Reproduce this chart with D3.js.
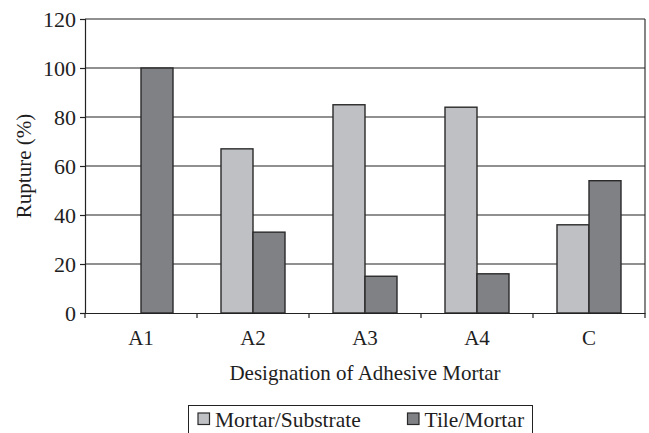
<!DOCTYPE html>
<html>
<head>
<meta charset="utf-8">
<script src="https://cdn.jsdelivr.net/npm/d3@7"></script>
<style>
  html, body { margin: 0; padding: 0; background: #fff; }
  svg { display: block; }
  text { font-family: "Liberation Serif", "Times New Roman", serif; fill: #1e1e1e; }
</style>
</head>
<body>
<svg id="chart" width="649" height="433"></svg>
<script>
// Rupture location by adhesive mortar
const categories = ["A1", "A2", "A3", "A4", "C"];
const seriesNames = ["Mortar/Substrate", "Tile/Mortar"];
const mortarSubstrate = [0, 67, 85, 84, 36];
const tileMortar = [100, 33, 15, 16, 54];
const yTicks = [0, 20, 40, 60, 80, 100, 120];
const seriesColors = ["#bfc0c4", "#808185"];

const FONT = "21px";
const svg = d3.select("#chart");
const margin = { left: 85, right: 4, top: 19, bottom: 120 };
const width = 649, height = 433;
const x0 = margin.left, x1 = width - margin.right;
const yTop = margin.top, yBottom = height - margin.bottom;

const x = d3.scaleBand().domain(categories).range([x0, x1]).paddingInner(0).paddingOuter(0);
const xs = d3.scaleBand().domain(seriesNames).range([0, 64]);
const y = d3.scaleLinear().domain([0, 120]).range([yBottom, yTop]);

// gridlines
svg.append("g")
  .selectAll("line")
  .data(yTicks.filter(t => t > 0))
  .join("line")
  .attr("x1", x0).attr("x2", x1)
  .attr("y1", d => y(d)).attr("y2", d => y(d))
  .attr("stroke", "#222").attr("stroke-width", 1.1);

// plot frame right edge
svg.append("line")
  .attr("x1", x1).attr("x2", x1).attr("y1", yTop).attr("y2", yBottom)
  .attr("stroke", "#222").attr("stroke-width", 1.1);

// bars
const rows = categories.map((c, i) => ({ cat: c, vals: [mortarSubstrate[i], tileMortar[i]] }));
const groupOffset = (x.bandwidth() - 64) / 2;
const g = svg.append("g");
rows.forEach(r => {
  r.vals.forEach((v, j) => {
    if (v <= 0) return;
    g.append("rect")
      .attr("x", x(r.cat) + groupOffset + xs(seriesNames[j]))
      .attr("width", xs.bandwidth())
      .attr("y", y(v))
      .attr("height", y(0) - y(v))
      .attr("fill", seriesColors[j])
      .attr("stroke", "#2a2a2a")
      .attr("stroke-width", 1.4);
  });
});

// axes
const yAxis = d3.axisLeft(y).tickValues(yTicks).tickSize(5).tickPadding(4);
const ya = svg.append("g").attr("transform", `translate(${x0},0)`).call(yAxis);
ya.select(".domain").attr("stroke", "#222").attr("stroke-width", 1.2);
ya.selectAll(".tick line").attr("stroke", "#222").attr("stroke-width", 1.2);
ya.selectAll("text").style("font-size", "22px").attr("fill", "#1e1e1e");

const xAxis = d3.axisBottom(x).tickSize(0).tickPadding(17);
const xa = svg.append("g").attr("transform", `translate(0,${yBottom})`).call(xAxis);
xa.select(".domain").attr("stroke", "#222").attr("stroke-width", 1.2);
xa.selectAll("text").style("font-size", FONT).attr("fill", "#1e1e1e");
// category boundary ticks
xa.selectAll(".boundary")
  .data(d3.range(categories.length + 1))
  .join("line")
  .attr("x1", i => x0 + i * x.step()).attr("x2", i => x0 + i * x.step())
  .attr("y1", 0).attr("y2", 5)
  .attr("stroke", "#222").attr("stroke-width", 1.2);

// axis titles
svg.append("text")
  .attr("x", (x0 + x1) / 2).attr("y", 380)
  .attr("text-anchor", "middle")
  .style("font-size", FONT)
  .text("Designation of Adhesive Mortar");

svg.append("text")
  .attr("transform", `translate(31,${(yTop + yBottom) / 2}) rotate(-90)`)
  .attr("text-anchor", "middle")
  .style("font-size", FONT)
  .text("Rupture (%)");

// legend
const legend = svg.append("g");
legend.append("rect")
  .attr("x", 188.5).attr("y", 405.5).attr("width", 344).attr("height", 40)
  .attr("fill", "none").attr("stroke", "#222").attr("stroke-width", 1);
const legendX = [198, 407.5];
seriesNames.forEach((name, j) => {
  legend.append("rect")
    .attr("x", legendX[j]).attr("y", 413).attr("width", 11.5).attr("height", 11.5)
    .attr("fill", seriesColors[j]).attr("stroke", "#2a2a2a").attr("stroke-width", 1.2);
  legend.append("text")
    .attr("x", legendX[j] + 17).attr("y", 426.5)
    .style("font-size", "21.5px")
    .text(name);
});
</script>
</body>
</html>
